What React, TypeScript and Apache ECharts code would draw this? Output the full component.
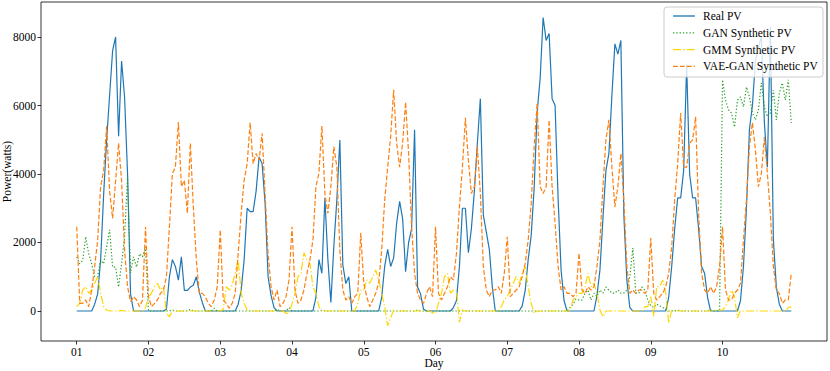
import React, { useEffect, useRef } from "react";
import * as echarts from "echarts";

// Tick labels / positions
const dayLabels = ["01", "02", "03", "04", "05", "06", "07", "08", "09", "10"];
const dayTicks = [0, 1, 2, 3, 4, 5, 6, 7, 8, 9];
const yTicks = [0, 2000, 4000, 6000, 8000];
const seriesNames = ["Real PV", "GAN Synthetic PV", "GMM Synthetic PV", "VAE-GAN Synthetic PV"];
const HOURS_PER_DAY = 24;

// Hourly values (W), one row per day
const realPV = [
  0, 0, 0, 0, 0, 0, 200, 500, 1500, 3400, 5000, 6300, 7600, 8000, 5100, 7300, 6250, 4000, 500, 0, 0, 0, 0, 0,
  0, 0, 0, 0, 0, 0, 50, 1000, 1500, 1300, 900, 1580, 600, 600, 700, 750, 1000, 550, 250, 0, 0, 0, 0, 0,
  0, 0, 0, 0, 0, 0, 200, 600, 1500, 3000, 2900, 2900, 3500, 4500, 4300, 3150, 1000, 450, 100, 0, 0, 0, 0, 0,
  0, 0, 0, 0, 0, 0, 0, 0, 400, 1500, 1100, 3300, 1500, 250, 1900, 3240, 4990, 1350, 800, 1000, 0, 0, 0, 0,
  0, 0, 0, 0, 0, 0, 400, 1300, 1800, 1300, 1550, 2560, 3200, 2700, 1150, 2000, 2400, 5290, 700, 500, 50, 0, 0, 0,
  0, 0, 0, 0, 0, 0, 100, 300, 1300, 3000, 3000, 1700, 2400, 3500, 4900, 6200, 2800, 2300, 1800, 700, 0, 0, 0, 0,
  0, 0, 0, 0, 0, 150, 600, 1500, 2200, 3600, 5800, 6800, 8570, 7900, 8100, 6200, 6000, 3300, 1200, 300, 0, 0, 0, 0,
  0, 0, 0, 0, 0, 0, 450, 1200, 2700, 4100, 4600, 6300, 7800, 7500, 7900, 2800, 900, 100, 0, 0, 0, 0, 0, 0,
  0, 0, 0, 0, 0, 0, 400, 1300, 2400, 3300, 3300, 4100, 7200, 4000, 3300, 3300, 2400, 1300, 1100, 400, 0, 0, 0, 0,
  0, 0, 0, 0, 0, 0, 300, 1300, 3000, 5300, 6000, 7300, 7700, 8000, 5500, 4200, 8300, 2100, 700, 200, 0, 0, 0, 0,
];

const ganPV = [
  1580, 1380, 1480, 2170, 1670, 1380, 1000, 1000, 1490, 1380, 1870, 2370, 1280, 1280, 700, 1380, 2170, 3920, 1110, 1580, 1280, 1670, 1580, 1870,
  0, 0, 0, 0, 0, 0, 0, 0, 30, 0, 0, 0, 0, 0, 50, 0, 0, 0, 0, 0, 0, 0, 80, 0,
  0, 0, 0, 0, 0, 0, 0, 0, 0, 0, 0, 0, 0, 0, 0, 0, 0, 0, 0, 50, 0, 0, 0, 100,
  0, 0, 0, 0, 0, 0, 0, 0, 0, 0, 20, 0, 0, 0, 0, 0, 0, 0, 0, 0, 0, 0, 0, 0,
  0, 0, 0, 0, 0, 0, 0, 0, 0, 0, 0, 0, 0, 0, 0, 0, 0, 0, 30, 0, 0, 0, 0, 0,
  0, 0, 0, 0, 0, 0, 0, 0, 0, 0, 0, 0, 0, 0, 0, 0, 0, 0, 0, 0, 0, 0, 0, 0,
  0, 0, 0, 0, 0, 0, 0, 0, 0, 0, 0, 0, 0, 0, 0, 0, 0, 0, 0, 0, 0, 100, 200, 350,
  320, 320, 520, 610, 320, 520, 420, 610, 520, 700, 610, 520, 520, 610, 520, 520, 610, 1000, 1840, 520, 520, 700, 610, 320,
  150, 100, 200, 150, 100, 50, 0, 0, 0, 30, 0, 0, 0, 0, 0, 0, 0, 0, 0, 0, 30, 0, 0, 0,
  6750, 6160, 5870, 5780, 5370, 6160, 6250, 5960, 6540, 6250, 5780, 5580, 5870, 6660, 5960, 5670, 5780, 6450, 5580, 6370, 6660, 6160, 6750, 5490,
];

const gmmPV = [
  126, 224, 613, 710, 516, 613, 808, 1000, 516, 126, 29, 0, 0, 0, 0, 20, 0, 0, 0, 0, 0, 0, 0, 100,
  400, 516, 710, 808, 613, 710, -68, -166, 0, 0, 0, 0, 0, 0, 0, 0, 0, 0, 0, 0, 0, 0, 0, 0,
  0, 50, 710, 613, 760, 1100, 1500, 516, 224, 29, 0, 0, 0, 0, 0, 0, 0, 0, 0, 0, 0, 0, -68, -70,
  200, 516, 1000, 1100, 1700, 1490, 1390, 710, 516, 126, 0, 0, 0, 0, 0, 0, 0, 0, 0, 0, 0, 0, 224, 613,
  613, 905, 808, 1000, 1200, 905, 516, 126, -430, -200, 29, 0, 0, 0, 0, 0, 0, 0, 0, 0, 0, 0, 0, -50,
  -68, 224, 516, 1000, 1100, 516, 613, 613, -330, 29, 0, 0, 0, 0, 0, 0, 0, 0, 0, 0, 0, 0, 126, 321,
  418, 613, 808, 1000, 808, 1100, 1300, 710, 224, -68, 0, 0, 0, 0, 0, 0, 0, 0, 0, 0, 0, 0, 321, 418,
  516, 516, 710, 1100, 710, 808, 516, 29, -166, 0, 0, 0, 0, 0, 0, 0, 0, 0, 0, 0, 0, 0, 126, 126,
  418, -150, 710, 710, 905, 516, -350, 29, 0, 0, 0, 0, 0, 0, 0, 0, 0, 0, 0, 0, 0, 0, 29, 29,
  29, 126, 321, 613, 418, -200, 0, 0, 0, 0, 0, 0, 0, 0, 0, 0, 0, 0, 0, 0, 0, 0, 100, 120,
];

const vaeganPV = [
  2460, 224, 224, 321, 126, 613, 1294, 2070, 3630, 4100, 5400, 3500, 2700, 3800, 4900, 3800, 1780, 710, 270, 418, 321, 126, 321, 2460,
  418, 126, 224, 321, 516, 613, 1000, 2460, 4020, 4200, 5520, 3630, 3820, 2850, 4900, 3040, 1490, 516, 516, 418, 224, 126, 321, 710,
  2370, 321, 224, 80, 224, 516, 1684, 2850, 3820, 4300, 5500, 4300, 4600, 4400, 5190, 3430, 1680, 710, 321, 613, 126, 224, 418, 905,
  2460, 613, 224, 321, 613, 1100, 1490, 2070, 3630, 4020, 5400, 3430, 2850, 3630, 4800, 4200, 1780, 613, 321, 418, 224, 418, 516, 2280,
  808, 418, 126, 321, 516, 808, 1780, 3240, 4200, 5090, 6460, 4900, 4200, 4900, 6100, 4600, 2460, 1100, 516, 321, 224, 516, 710, 418,
  2460, 516, 321, 516, 710, 1000, 905, 1680, 3040, 4200, 5640, 4400, 3430, 3630, 4800, 3430, 1300, 613, 418, 613, 613, 710, 516, 1100,
  2170, 418, 516, 613, 710, 1000, 1390, 2070, 3140, 4800, 6070, 3630, 3430, 3630, 5580, 3630, 2560, 1300, 613, 710, 516, 516, 418, 516,
  1690, 613, 516, 710, 613, 710, 1300, 2070, 3630, 5000, 5580, 4200, 3040, 3630, 4600, 3240, 1300, 516, 613, 516, 613, 613, 516, 613,
  2130, 516, 321, 418, 516, 710, 1100, 1870, 3240, 4300, 5780, 4200, 4200, 4900, 5000, 5670, 2850, 1100, 613, 516, 710, 516, 710, 1300,
  2460, 613, 321, 321, 516, 613, 808, 2070, 3240, 4800, 5500, 4700, 3630, 4020, 5080, 4020, 2850, 1300, 613, 516, 224, 321, 321, 1100,
];

const FONT = '"Liberation Serif", "Times New Roman", "DejaVu Serif", serif';

const styles = [
  { color: "#1f77b4", dash: "solid" as any },
  { color: "#2ca02c", dash: [1.3, 2] },
  { color: "#ffd700", dash: [8, 2.2, 1.3, 2.2] },
  { color: "#ff7f0e", dash: [4.8, 2.1] },
];

const toPoints = (arr: number[]) => arr.map((v, i) => [i / HOURS_PER_DAY, v]);

export default function App() {
  const ref = useRef<HTMLDivElement>(null);
  useEffect(() => {
    document.body.style.margin = "0";
    if (!ref.current) return;
    const chart = echarts.init(ref.current, undefined, { renderer: "svg" });
    const allData = [realPV, ganPV, gmmPV, vaeganPV];
    const legendRows = seriesNames.map((name, k) => {
      const y = 16 + k * 16.8;
      const st = styles[k];
      return [
        {
          type: "line",
          shape: { x1: 673, y1: y, x2: 695, y2: y },
          style: { stroke: st.color, lineWidth: 1.3, lineDash: st.dash === "solid" ? null : st.dash },
          z: 101,
        },
        {
          type: "text",
          x: 703,
          y: y,
          style: { text: name, font: `11.5px ${FONT}`, fill: "#000", textVerticalAlign: "middle", verticalAlign: "middle" },
          z: 101,
        },
      ];
    });
    chart.setOption({
      animation: false,
      textStyle: { fontFamily: FONT },
      grid: {
        left: 41,
        top: 2,
        width: 786,
        height: 339,
        containLabel: false,
        outerBoundsMode: "none",
        show: true,
        borderColor: "#000",
        borderWidth: 0.8,
        backgroundColor: "transparent",
      },
      xAxis: {
        type: "value",
        min: -0.498,
        max: 10.456,
        name: "Day",
        nameLocation: "middle",
        nameGap: 16,
        nameMoveOverlap: false,
        nameTextStyle: { fontFamily: FONT, fontSize: 11.5, color: "#000" },
        axisLine: { show: false, onZero: false },
        splitLine: { show: false },
        axisTick: { show: true, inside: false, length: 3.5, lineStyle: { color: "#000", width: 0.8 }, customValues: dayTicks },
        axisLabel: {
          show: true,
          margin: 5,
          fontFamily: FONT,
          fontSize: 11.5,
          color: "#000",
          customValues: dayTicks,
          formatter: (v: number) => dayLabels[Math.round(v)] ?? "",
        },
      },
      yAxis: {
        type: "value",
        min: -876,
        max: 9022,
        name: "Power(watts)",
        nameLocation: "middle",
        nameGap: 28,
        nameRotate: 90,
        nameMoveOverlap: false,
        nameTextStyle: { fontFamily: FONT, fontSize: 11.5, color: "#000" },
        axisLine: { show: false, onZero: false },
        splitLine: { show: false },
        axisTick: { show: true, inside: false, length: 3.5, lineStyle: { color: "#000", width: 0.8 }, customValues: yTicks },
        axisLabel: {
          show: true,
          margin: 5,
          fontFamily: FONT,
          fontSize: 11.5,
          color: "#000",
          customValues: yTicks,
          formatter: (v: number) => String(v),
        },
      },
      series: seriesNames.map((name, k) => ({
        name,
        type: "line",
        data: toPoints(allData[k]),
        symbol: "none",
        showSymbol: false,
        clip: true,
        lineStyle: { color: styles[k].color, width: 1.2, type: styles[k].dash },
        emphasis: { disabled: true },
        z: 2 + k,
      })),
      graphic: [
        {
          type: "rect",
          shape: { x: 664, y: 7, width: 159, height: 70, r: 3 },
          style: { fill: "rgba(255,255,255,0.8)", stroke: "#cccccc", lineWidth: 1 },
          z: 100,
        },
        ...legendRows.flat(),
      ],
    });
    return () => chart.dispose();
  }, []);
  return <div ref={ref} style={{ position: "fixed", left: 0, top: 0, width: 830, height: 371, background: "#fff" }} />;
}
